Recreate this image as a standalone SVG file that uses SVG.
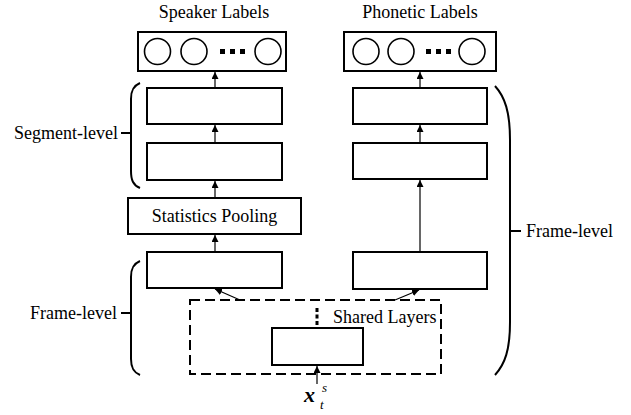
<svg xmlns="http://www.w3.org/2000/svg" width="631" height="415" viewBox="0 0 631 415">
<style>
  .box { fill: #fff; stroke: #000; stroke-width: 2; }
  .circ { fill: #fff; stroke: #000; stroke-width: 1.6; }
  .txt { font-family: 'Liberation Serif', serif; font-size: 18px; fill: #000; }
  .conn { fill: none; stroke: #000; stroke-width: 1.2; }
  .brace { fill: none; stroke: #000; stroke-width: 2; }
  .dash { fill: none; stroke: #000; stroke-width: 2; stroke-dasharray: 10 5; }
</style>
<defs>
  <marker id="arr" viewBox="0 0 10 10" refX="10" refY="5" markerWidth="7" markerHeight="7" markerUnits="userSpaceOnUse" orient="auto">
    <path d="M0,0 L10,5 L0,10 z" fill="#000"/>
  </marker>
</defs>
<rect width="631" height="415" fill="#fff"/>
<g font-family="Liberation Serif, serif">

<g id="shared-layers">
  <rect class="dash" x="190" y="300" width="251" height="74"/>
  <rect class="box" x="272" y="328" width="91" height="37"/>
  <rect x="315.5" y="308" width="3" height="4" fill="#000"/>
  <rect x="315.5" y="314.5" width="3" height="4" fill="#000"/>
  <rect x="315.5" y="321" width="3" height="4" fill="#000"/>
  <text class="txt" x="333" y="323">Shared Layers</text>
</g>

<g id="input">
  <text x="304" y="402" font-family="Liberation Serif, serif" font-size="22" font-weight="bold" font-style="italic">x</text>
  <text x="322" y="392" font-family="Liberation Serif, serif" font-size="13" font-style="italic">s</text>
  <text x="320" y="409" font-family="Liberation Serif, serif" font-size="13" font-style="italic">t</text>
</g>

<g id="speaker-output">
  <text class="txt" x="214" y="18" text-anchor="middle">Speaker Labels</text>
  <rect class="box" x="138" y="32" width="148" height="39"/>
  <circle class="circ" cx="157.5" cy="51.5" r="13"/>
  <circle class="circ" cx="194" cy="51.5" r="13"/>
  <circle class="circ" cx="268" cy="51.5" r="13"/>
  <rect x="220" y="49" width="5" height="5" fill="#000"/>
  <rect x="230" y="49" width="5" height="5" fill="#000"/>
  <rect x="240" y="49" width="5" height="5" fill="#000"/>
</g>

<g id="phonetic-output">
  <text class="txt" x="420" y="18" text-anchor="middle">Phonetic Labels</text>
  <rect class="box" x="344" y="32" width="152" height="39"/>
  <circle class="circ" cx="366" cy="51.5" r="13"/>
  <circle class="circ" cx="401" cy="51.5" r="13"/>
  <circle class="circ" cx="472" cy="51.5" r="13"/>
  <rect x="426" y="49" width="5" height="5" fill="#000"/>
  <rect x="436" y="49" width="5" height="5" fill="#000"/>
  <rect x="446" y="49" width="5" height="5" fill="#000"/>
</g>

<g id="spk-seg1"><rect class="box" x="147" y="88" width="135" height="36"/></g>
<g id="spk-seg2"><rect class="box" x="147" y="143" width="135" height="37"/></g>
<g id="stats-pooling">
  <rect class="box" x="128" y="198" width="173" height="36"/>
  <text class="txt" x="214.5" y="222" text-anchor="middle">Statistics Pooling</text>
</g>
<g id="spk-frame"><rect class="box" x="147" y="252" width="135" height="36"/></g>

<g id="pho-1"><rect class="box" x="353" y="88" width="134" height="36"/></g>
<g id="pho-2"><rect class="box" x="353" y="143" width="134" height="36"/></g>
<g id="pho-frame"><rect class="box" x="353" y="252" width="134" height="37"/></g>

<g id="segment-level-brace">
  <path class="brace" d="M140,83 C133,86 131,91 131,99 L131,171 C131,180 133,185 140,188 M131,133 L121,133"/>
  <text class="txt" x="118" y="139" text-anchor="end">Segment-level</text>
</g>
<g id="frame-level-left-brace">
  <path class="brace" d="M140,261 C133,264 131,269 131,277 L131,359 C131,367 133,372 140,375 M131,313 L121,313"/>
  <text class="txt" x="117" y="319" text-anchor="end">Frame-level</text>
</g>
<g id="frame-level-right-brace">
  <path class="brace" d="M495,86 C505,97 510,112 510,140 L510,322 C510,350 505,364 495,375 M510,231 L521,231"/>
  <text class="txt" x="526" y="237">Frame-level</text>
</g>

<g id="connectors">
  <line class="conn" x1="317" y1="384" x2="317" y2="366" marker-end="url(#arr)"/>
  <line class="conn" x1="240" y1="300" x2="215" y2="289" marker-end="url(#arr)"/>
  <line class="conn" x1="395" y1="300" x2="419" y2="290" marker-end="url(#arr)"/>
  <line class="conn" x1="215" y1="252" x2="215" y2="235" marker-end="url(#arr)"/>
  <line class="conn" x1="215" y1="198" x2="215" y2="181" marker-end="url(#arr)"/>
  <line class="conn" x1="215" y1="143" x2="215" y2="125" marker-end="url(#arr)"/>
  <line class="conn" x1="215" y1="88" x2="215" y2="72" marker-end="url(#arr)"/>
  <line class="conn" x1="420" y1="252" x2="420" y2="180" marker-end="url(#arr)"/>
  <line class="conn" x1="420" y1="143" x2="420" y2="125" marker-end="url(#arr)"/>
  <line class="conn" x1="420" y1="88" x2="420" y2="72" marker-end="url(#arr)"/>
</g>
</g>
</svg>
